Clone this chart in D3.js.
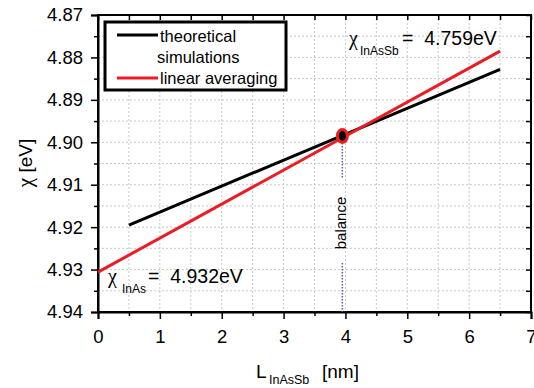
<!DOCTYPE html>
<html><head><meta charset="utf-8">
<script src="https://cdn.jsdelivr.net/npm/d3@7"></script>
<style>body{margin:0;background:#fff}svg{display:block;font-family:"Liberation Sans",Arial,sans-serif}</style>
</head><body><svg id="c" width="534" height="388"></svg>
<script>
const xTicks = [0,1,2,3,4,5,6,7];
const yTicks = [4.87,4.88,4.89,4.90,4.91,4.92,4.93,4.94];
const theoryX = [0.5, 6.5];
const theoryY = [4.9195, 4.8828];
const linearX = [0, 6.5];
const linearY = [4.9306, 4.8785];
const balanceX = [3.95];
const balanceY = [4.8985];
const legendLabels = [["theoretical","simulations"],["linear averaging"]];

(function(){
const svg = d3.select("#c");
const x = d3.scaleLinear().domain([0,7]).range([98,531]);
const y = d3.scaleLinear().domain([4.87,4.94]).range([15,312]);
const x0=98,x1=531,y0=15,y1=312;
const RED="#ec1c24";

// grid
const gx = d3.range(0,15).map(i=>i*0.5), gy = d3.range(0,15).map(i=>4.87+i*0.005);
svg.append("g").selectAll("line").data(gx.slice(1,-1)).join("line")
  .attr("x1",d=>x(d)).attr("x2",d=>x(d)).attr("y1",y0).attr("y2",y1)
  .attr("stroke","#c8c8c8").attr("stroke-dasharray","2,2");
svg.append("g").selectAll("line").data(gy.slice(1,-1)).join("line")
  .attr("y1",d=>y(d)).attr("y2",d=>y(d)).attr("x1",x0).attr("x2",x1)
  .attr("stroke","#c8c8c8").attr("stroke-dasharray","2,2");

// axes
const fmtY = d3.format(".2f");
const gLeft = svg.append("g").attr("transform",`translate(${x0},0)`)
  .call(d3.axisLeft(y).tickValues(yTicks).tickFormat(fmtY).tickSize(7).tickPadding(8));
const gLeftMinor = svg.append("g").attr("transform",`translate(${x0},0)`)
  .call(d3.axisLeft(y).tickValues(yTicks.slice(0,-1).map(v=>v+0.005)).tickFormat("").tickSize(4));
const gBottom = svg.append("g").attr("transform",`translate(0,${y1})`)
  .call(d3.axisBottom(x).tickValues(xTicks).tickFormat(d3.format("d")).tickSize(7).tickPadding(11));
const gBottomMinor = svg.append("g").attr("transform",`translate(0,${y1})`)
  .call(d3.axisBottom(x).tickValues(xTicks.slice(0,-1).map(v=>v+0.5)).tickFormat("").tickSize(4));
const gRight = svg.append("g").attr("transform",`translate(${x1},0)`)
  .call(d3.axisRight(y).tickValues(gy).tickFormat("").tickSize(-5));
const gTop = svg.append("g").attr("transform",`translate(0,${y0})`)
  .call(d3.axisTop(x).tickValues(gx).tickFormat("").tickSize(-5));
[gLeft,gLeftMinor,gBottom,gBottomMinor,gRight,gTop].forEach(g=>{
  g.selectAll("path.domain").attr("stroke","#000").attr("stroke-width",2);
  g.selectAll(".tick line").attr("stroke","#000").attr("stroke-width",1.5);
  g.selectAll("text").attr("font-size",18.5).attr("fill","#000").attr("font-family","Liberation Sans, Arial, sans-serif");
});
[gLeftMinor,gBottomMinor,gRight,gTop].forEach(g=>g.select("path.domain").remove());
svg.append("rect").attr("x",x0).attr("y",y0).attr("width",x1-x0).attr("height",y1-y0)
  .attr("fill","none").attr("stroke","#000").attr("stroke-width",2);

// balance line
const bx = x(balanceX[0]);
svg.append("line").attr("x1",bx).attr("x2",bx).attr("y1",y(balanceY[0])+4).attr("y2",179)
  .attr("stroke","#5b5bb0").attr("stroke-width",1.5).attr("stroke-dasharray","1.5,1.5");
svg.append("line").attr("x1",bx).attr("x2",bx).attr("y1",263).attr("y2",y1)
  .attr("stroke","#5b5bb0").attr("stroke-width",1.5).attr("stroke-dasharray","1.5,1.5");
svg.append("text").attr("transform",`translate(${bx+4},223) rotate(-90)`)
  .attr("text-anchor","middle").attr("font-size",15).text("balance");

// lines
const line = d3.line().x(d=>x(d[0])).y(d=>y(d[1]));
svg.append("path").datum(theoryX.map((v,i)=>[v,theoryY[i]])).attr("d",line)
  .attr("stroke","#000").attr("stroke-width",3).attr("fill","none");
svg.append("path").datum(linearX.map((v,i)=>[v,linearY[i]])).attr("d",line)
  .attr("stroke",RED).attr("stroke-width",3).attr("fill","none");

// balance marker
svg.append("ellipse").attr("cx",x(balanceX[0])).attr("cy",y(balanceY[0]))
  .attr("rx",5).attr("ry",6.5).attr("fill","#000").attr("stroke",RED).attr("stroke-width",3);

// legend
svg.append("rect").attr("x",105).attr("y",22).attr("width",181).attr("height",68)
  .attr("fill","#fff").attr("stroke","#000").attr("stroke-width",3);
svg.append("line").attr("x1",117).attr("x2",158).attr("y1",35).attr("y2",35).attr("stroke","#000").attr("stroke-width",3);
svg.append("line").attr("x1",117).attr("x2",158).attr("y1",78).attr("y2",78).attr("stroke",RED).attr("stroke-width",3);
svg.append("text").attr("x",160).attr("y",42).attr("font-size",16.5).text(legendLabels[0][0]);
svg.append("text").attr("x",157).attr("y",63).attr("font-size",16.5).text(legendLabels[0][1]);
svg.append("text").attr("x",160).attr("y",84).attr("font-size",16.5).text(legendLabels[1][0]);

// annotations
function chi(xc, xs, xr, yb, sub, rest){
  svg.append("text").attr("x",xc).attr("y",yb).attr("font-size",20)
    .attr("font-family","Liberation Serif, serif").text("χ");
  svg.append("text").attr("x",xs).attr("y",yb+10).attr("font-size",12).text(sub);
  svg.append("text").attr("x",xr).attr("y",yb).attr("font-size",19.5)
    .attr("xml:space","preserve").text(rest);
}
chi(349,360,402,45,"InAsSb","=  4.759eV");
chi(108,122,148,283,"InAs","=  4.932eV");

// axis titles
svg.append("text").attr("transform","translate(32,163) rotate(-90)").attr("text-anchor","middle")
  .attr("font-size",19).attr("xml:space","preserve")
  .call(t=>{t.append("tspan").attr("font-family","Liberation Serif, serif").attr("font-size",21).text("χ");
            t.append("tspan").text(" [eV]");});
svg.append("text").attr("x",256).attr("y",378).attr("font-size",19).text("L");
svg.append("text").attr("x",269).attr("y",384).attr("font-size",12.5).text("InAsSb");
svg.append("text").attr("x",322).attr("y",378).attr("font-size",19).text("[nm]");
})();
</script></body></html>
